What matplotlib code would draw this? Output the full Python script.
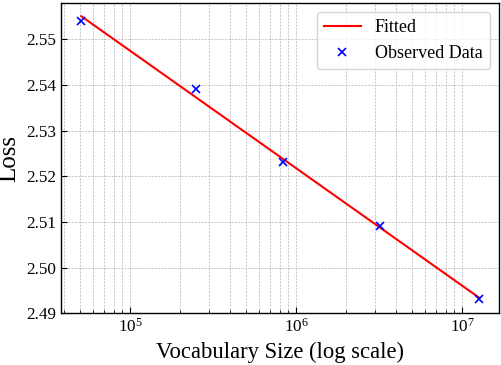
import matplotlib
matplotlib.use("Agg")
import matplotlib.pyplot as plt

vocab_sizes = [5.09e4, 2.51e5, 8.4e5, 3.2e6, 1.27e7]
observed_loss = [2.5539, 2.5390, 2.5231, 2.5091, 2.4931]
fit_x = [5.09e4, 1.27e7]
fit_y = [2.5550, 2.4934]
y_ticks = [2.49, 2.50, 2.51, 2.52, 2.53, 2.54, 2.55]

plt.rcParams['font.family'] = ['Liberation Serif', 'DejaVu Serif']
plt.rcParams['mathtext.fontset'] = 'stix'

fig = plt.figure(figsize=(5.02, 3.65), dpi=100)
ax = fig.add_axes([0.1215, 0.1416, 0.8725, 0.8502])

ax.plot(fit_x, fit_y, color='red', lw=1.5, label='Fitted', zorder=3)
ax.plot(vocab_sizes, observed_loss, linestyle='none', marker='x', color='blue',
        ms=6, mew=1.2, label='Observed Data', zorder=4)

ax.set_xscale('log')
ax.set_xlim(3.84e4, 1.67e7)
ax.set_ylim(2.49, 2.5579)
ax.set_yticks(y_ticks)
ax.set_yticklabels([f"{v:.2f}" for v in y_ticks])

ax.grid(True, which='both', color='#bdbdbd', linestyle=(0, (2.5, 1.5)), linewidth=0.6)
ax.tick_params(which='both', direction='in', labelsize=12.3)
ax.tick_params(which='major', length=4)
ax.tick_params(which='minor', length=2)
for s in ax.spines.values():
    s.set_linewidth(1.0)

ax.set_xlabel('Vocabulary Size (log scale)', fontsize=16.3)
ax.set_ylabel('Loss', fontsize=18)
ax.legend(loc='upper right', fontsize=13)

fig.savefig('out.png', dpi=100)
